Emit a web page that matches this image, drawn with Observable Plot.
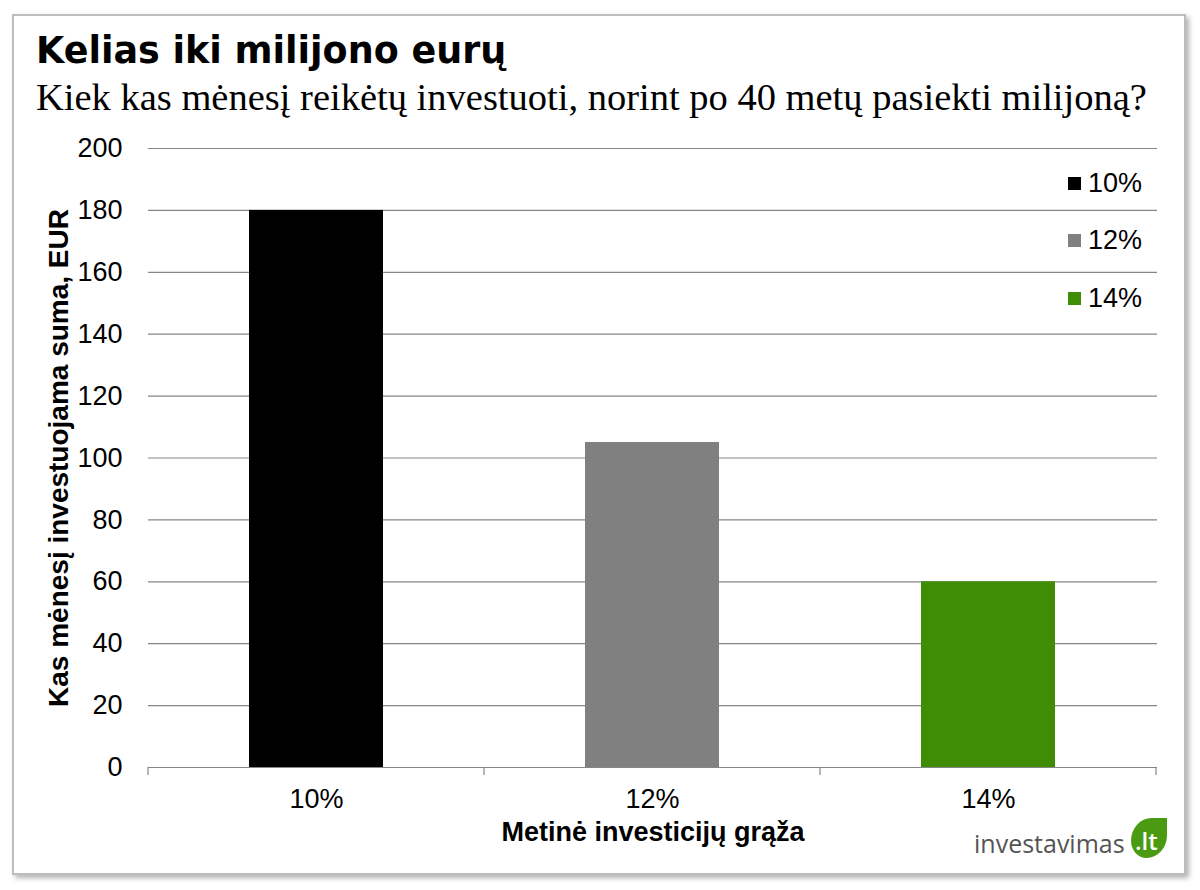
<!DOCTYPE html>
<html>
<head>
<meta charset="utf-8">
<script src="https://cdn.jsdelivr.net/npm/d3@7"></script>
<script src="https://cdn.jsdelivr.net/npm/@observablehq/plot@0.6"></script>
<style>
  html, body { margin: 0; padding: 0; background: #ffffff; }
  #page { position: relative; width: 1200px; height: 890px; overflow: hidden; background: #fff; }
  #frame { position: absolute; left: 12px; top: 14px; width: 1170px; height: 857px;
           border: 2px solid #bdbdbd; box-shadow: 3px 3px 5px rgba(0,0,0,0.30); background: #fff; }
  #title { position: absolute; left: 36px; top: 30px; font-family: "DejaVu Sans", sans-serif;
           font-weight: bold; font-size: 36.5px; line-height: 42px; color: #000; white-space: nowrap; }
  #subtitle { position: absolute; left: 36px; top: 76px; font-family: "Liberation Serif", "Times New Roman", serif;
           font-size: 38.5px; line-height: 42px; color: #000; white-space: nowrap; }
  #chart { position: absolute; left: 0; top: 130px; }
  #legend { position: absolute; left: 1068px; top: 164px; font-family: "Liberation Sans", Arial, sans-serif;
            font-size: 27px; color: #000; }
  .lg-row { position: absolute; left: 0; height: 38px; display: flex; align-items: center; white-space: nowrap; }
  .lg-sw { width: 13px; height: 13px; margin-right: 7px; }
  #logo { position: absolute; left: 974px; top: 818px; height: 44px; white-space: nowrap; }
  #logo .word { position: absolute; left: 0; top: 10px; font-family: "Open Sans", "DejaVu Sans", sans-serif;
                font-size: 25px; line-height: 30px; color: #555; }
  #logo .leaf { position: absolute; left: 157px; top: 0px; width: 36px; height: 40px; background: #4a9a12;
                border-radius: 60% 0 60% 45%; }
  #logo .leaf span { position: absolute; left: 4px; top: 9px; font-family: "Open Sans", "DejaVu Sans", sans-serif;
                font-size: 24px; line-height: 28px; color: #fff; font-weight: 600; }
</style>
</head>
<body>
<div id="page">
  <div id="frame"></div>
  <div id="title"></div>
  <div id="subtitle"></div>
  <div id="chart"></div>
  <div id="legend"></div>
  <div id="logo"><div class="word"></div><div class="leaf"><span></span></div></div>
</div>
<script>
// ---- data ----
const titleText = "Kelias iki milijono eurų";
const subtitleText = "Kiek kas mėnesį reikėtų investuoti, norint po 40 metų pasiekti milijoną?";
const yLabel = "Kas mėnesį investuojama suma, EUR";
const xLabel = "Metinė investicijų grąža";
const categories = ["10%", "12%", "14%"];
const values = [180, 105, 60];
const colors = ["#000000", "#808080", "#3f8c05"];
const yTicks = [0, 20, 40, 60, 80, 100, 120, 140, 160, 180, 200];
const logoWord = "investavimas";
const logoTld = ".lt";

const data = categories.map((c, i) => ({rate: c, value: values[i]}));

document.getElementById("title").textContent = titleText;
document.getElementById("subtitle").textContent = subtitleText;
document.querySelector("#logo .word").textContent = logoWord;
document.querySelector("#logo .leaf span").textContent = logoTld;

// legend
const legend = document.getElementById("legend");
categories.forEach((c, i) => {
  const row = document.createElement("div");
  row.className = "lg-row";
  row.style.top = (i * 57.5) + "px";
  const sw = document.createElement("div");
  sw.className = "lg-sw";
  sw.style.background = colors[i];
  const tx = document.createElement("span");
  tx.textContent = c;
  row.appendChild(sw); row.appendChild(tx);
  legend.appendChild(row);
});

// category boundary ticks under the x axis
function boundaryTicks(index, scales, vals, dims) {
  const x = scales.x, y = scales.y;
  const bw = x.bandwidth();
  const step = x(categories[1]) - x(categories[0]);
  const gap = (step - bw) / 2;
  const xs = categories.map(c => x(c) - gap);
  xs.push(x(categories[categories.length - 1]) + bw + gap);
  const y0 = y(0);
  const g = d3.create("svg:g").attr("stroke", "#868686").attr("stroke-width", 1.2);
  for (const xv of xs) {
    g.append("line").attr("x1", xv).attr("x2", xv).attr("y1", y0).attr("y2", y0 + 8);
  }
  return g.node();
}

const chart = Plot.plot({
  width: 1200,
  height: 760,
  marginLeft: 148,
  marginRight: 43,
  marginTop: 18,
  marginBottom: 123,
  style: {fontFamily: "'Liberation Sans', Arial, sans-serif", color: "#000", background: "transparent", overflow: "visible"},
  x: {domain: categories, paddingInner: 0.6, paddingOuter: 0.3, label: null},
  y: {domain: [0, 200], label: null},
  color: {domain: categories, range: colors},
  marks: [
    Plot.gridY(yTicks, {stroke: "#868686", strokeOpacity: 1, strokeWidth: 1.2}),
    Plot.barY(data, {x: "rate", y: "value", fill: "rate"}),
    Plot.ruleY([0], {stroke: "#868686", strokeWidth: 1.2}),
    boundaryTicks,
    Plot.axisY(yTicks, {tickSize: 0, tickPadding: 26, fontSize: 27, label: null, fill: "#000"}),
    Plot.axisX({tickSize: 0, tickPadding: 21, fontSize: 27, label: null, fill: "#000"}),
    Plot.text([yLabel], {frameAnchor: "left", textAnchor: "middle", dx: -89, rotate: -90, fontSize: 28, fontWeight: "bold", fill: "#000"}),
    Plot.text([xLabel], {frameAnchor: "bottom", dy: 73, fontSize: 27, fontWeight: "bold", fill: "#000"})
  ]
});
document.getElementById("chart").appendChild(chart);
</script>
</body>
</html>
